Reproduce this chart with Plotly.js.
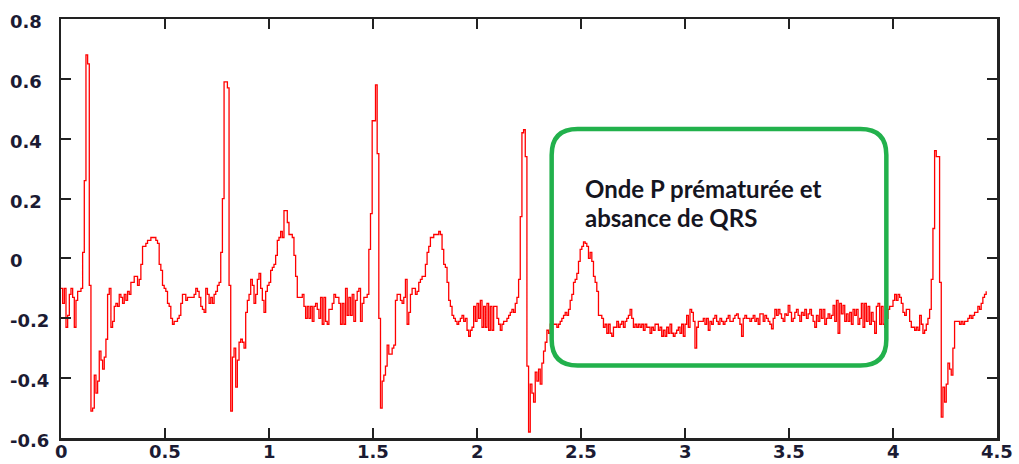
<!DOCTYPE html>
<html>
<head>
<meta charset="utf-8">
<script src="https://cdn.plot.ly/plotly-3.0.1.min.js"></script>
<style>
  html, body { margin: 0; padding: 0; background: #ffffff; }
  #chart { width: 1019px; height: 464px; }
</style>
</head>
<body>
<div id="chart"></div>
<script>
// ---- data ----
var sampleStep = 0.008; // seconds between samples
var ecgValues = [
  -0.10,-0.15,-0.10,-0.23,-0.19,-0.12,-0.10,-0.13,-0.23,-0.14,
  -0.11,-0.11,-0.10,0.02,0.26,0.68,0.65,-0.09,-0.51,-0.50,
  -0.39,-0.45,-0.41,-0.31,-0.34,-0.37,-0.33,-0.27,-0.12,-0.10,
  -0.23,-0.21,-0.16,-0.15,-0.16,-0.12,-0.13,-0.15,-0.12,-0.14,
  -0.11,-0.12,-0.08,-0.08,-0.06,-0.06,-0.09,-0.07,-0.02,0.04,
  0.04,0.05,0.06,0.06,0.07,0.07,0.07,0.06,0.05,-0.02,
  -0.04,-0.09,-0.10,-0.11,-0.15,-0.16,-0.20,-0.22,-0.21,-0.21,
  -0.20,-0.19,-0.15,-0.12,-0.12,-0.14,-0.13,-0.13,-0.13,-0.13,
  -0.12,-0.10,-0.11,-0.13,-0.16,-0.17,-0.18,-0.10,-0.12,-0.15,
  -0.13,-0.15,-0.12,-0.11,-0.09,-0.08,0.02,0.20,0.59,0.59,
  0.57,-0.09,-0.51,-0.33,-0.30,-0.43,-0.34,-0.28,-0.27,-0.28,
  -0.30,-0.18,-0.14,-0.12,-0.07,-0.09,-0.15,-0.12,-0.07,-0.05,
  -0.10,-0.14,-0.18,-0.11,-0.09,-0.08,-0.04,-0.03,-0.02,0.01,
  0.06,0.07,0.09,0.07,0.16,0.16,0.12,0.08,0.08,0.07,
  0.01,-0.06,-0.13,-0.13,-0.13,-0.12,-0.16,-0.20,-0.16,-0.20,
  -0.16,-0.21,-0.16,-0.15,-0.17,-0.20,-0.13,-0.22,-0.13,-0.21,
  -0.22,-0.17,-0.17,-0.15,-0.12,-0.13,-0.13,-0.15,-0.22,-0.15,
  -0.22,-0.10,-0.19,-0.13,-0.19,-0.12,-0.21,-0.14,-0.11,-0.10,
  -0.21,-0.15,-0.13,-0.13,-0.12,0.03,0.15,0.46,0.46,0.58,
  0.35,-0.20,-0.50,-0.41,-0.39,-0.36,-0.29,-0.32,-0.32,-0.30,
  -0.29,-0.14,-0.12,-0.12,-0.14,-0.15,-0.13,-0.07,-0.22,-0.18,
  -0.12,-0.10,-0.10,-0.12,-0.11,-0.08,-0.07,-0.06,-0.06,-0.02,
  0.02,0.04,0.07,0.07,0.08,0.08,0.08,0.09,0.08,0.03,
  -0.02,-0.03,-0.08,-0.14,-0.16,-0.19,-0.20,-0.21,-0.22,-0.21,
  -0.20,-0.19,-0.21,-0.20,-0.24,-0.26,-0.24,-0.23,-0.16,-0.21,
  -0.15,-0.20,-0.14,-0.23,-0.16,-0.23,-0.15,-0.24,-0.16,-0.24,
  -0.16,-0.16,-0.20,-0.22,-0.24,-0.22,-0.21,-0.21,-0.20,-0.19,
  -0.18,-0.17,-0.18,-0.15,-0.13,-0.07,0.14,0.42,0.43,0.34,
  -0.36,-0.58,-0.42,-0.45,-0.48,-0.38,-0.41,-0.37,-0.42,-0.35,
  -0.31,-0.28,-0.24,-0.25,-0.22,-0.22,-0.22,-0.22,-0.23,-0.22,
  -0.21,-0.20,-0.19,-0.18,-0.19,-0.17,-0.14,-0.12,-0.08,-0.07,
  -0.05,-0.01,0.03,0.04,0.055,0.05,0.04,0.00,0.02,-0.01,
  -0.06,-0.08,-0.11,-0.19,-0.19,-0.20,-0.23,-0.22,-0.25,-0.22,
  -0.25,-0.26,-0.23,-0.23,-0.21,-0.23,-0.22,-0.21,-0.23,-0.21,
  -0.20,-0.19,-0.17,-0.20,-0.23,-0.22,-0.23,-0.22,-0.23,-0.22,
  -0.24,-0.22,-0.23,-0.23,-0.25,-0.23,-0.24,-0.22,-0.22,-0.24,
  -0.23,-0.26,-0.24,-0.26,-0.23,-0.25,-0.22,-0.25,-0.26,-0.25,
  -0.24,-0.23,-0.25,-0.22,-0.26,-0.22,-0.19,-0.23,-0.17,-0.18,
  -0.21,-0.30,-0.23,-0.21,-0.21,-0.21,-0.20,-0.22,-0.20,-0.24,
  -0.21,-0.22,-0.20,-0.19,-0.21,-0.22,-0.20,-0.21,-0.22,-0.21,
  -0.20,-0.19,-0.21,-0.21,-0.20,-0.19,-0.185,-0.20,-0.22,-0.26,
  -0.20,-0.19,-0.20,-0.20,-0.21,-0.20,-0.19,-0.21,-0.20,-0.22,
  -0.185,-0.185,-0.21,-0.19,-0.20,-0.21,-0.22,-0.235,-0.20,-0.17,
  -0.19,-0.17,-0.185,-0.20,-0.21,-0.185,-0.19,-0.157,-0.18,-0.21,
  -0.20,-0.18,-0.17,-0.19,-0.21,-0.18,-0.19,-0.17,-0.20,-0.185,
  -0.17,-0.19,-0.21,-0.23,-0.19,-0.21,-0.17,-0.20,-0.17,-0.22,
  -0.20,-0.185,-0.20,-0.19,-0.157,-0.21,-0.14,-0.25,-0.15,-0.185,
  -0.157,-0.21,-0.185,-0.21,-0.18,-0.22,-0.17,-0.19,-0.17,-0.22,
  -0.20,-0.15,-0.23,-0.15,-0.21,-0.16,-0.22,-0.18,-0.21,-0.25,
  -0.16,-0.15,-0.22,-0.16,-0.22,-0.23,-0.20,-0.17,-0.16,-0.16,
  -0.14,-0.12,-0.14,-0.12,-0.13,-0.15,-0.18,-0.19,-0.17,-0.17,
  -0.21,-0.23,-0.23,-0.24,-0.23,-0.24,-0.19,-0.22,-0.25,-0.24,
  -0.22,-0.20,-0.17,-0.07,0.10,0.36,0.34,0.34,-0.08,-0.53,
  -0.43,-0.48,-0.42,-0.35,-0.37,-0.39,-0.30,-0.21,-0.21,-0.21,
  -0.22,-0.21,-0.22,-0.21,-0.21,-0.20,-0.19,-0.20,-0.19,-0.18,
  -0.18,-0.16,-0.17,-0.15,-0.13,-0.12,-0.11
];
var xTickValues = [0, 0.5, 1, 1.5, 2, 2.5, 3, 3.5, 4, 4.5];
var xTickLabels = ["0", "0.5", "1", "1.5", "2", "2.5", "3", "3.5", "4", "4.5"];
var yTickValues = [-0.6, -0.4, -0.2, 0, 0.2, 0.4, 0.6, 0.8];
var yTickLabels = ["-0.6", "-0.4", "-0.2", "0", "0.2", "0.4", "0.6", "0.8"];
var noteLines = ["Onde P prématurée et", "absance de QRS"];

// ---- build ----
var times = ecgValues.map(function (v, i) { return +(i * sampleStep).toFixed(4); });

var tickFont = { family: "DejaVu Sans, Verdana, sans-serif", size: 18, color: "#1b1b33", weight: "bold" };

// rounded rectangle (box around the premature P wave)
var bx0 = 2.359, bx1 = 3.968, by0 = -0.3577, by1 = 0.4327, rx = 0.125, ry = 0.087;
var boxPath = "M " + (bx0 + rx) + "," + by1 +
  " L " + (bx1 - rx) + "," + by1 +
  " Q " + bx1 + "," + by1 + " " + bx1 + "," + (by1 - ry) +
  " L " + bx1 + "," + (by0 + ry) +
  " Q " + bx1 + "," + by0 + " " + (bx1 - rx) + "," + by0 +
  " L " + (bx0 + rx) + "," + by0 +
  " Q " + bx0 + "," + by0 + " " + bx0 + "," + (by0 + ry) +
  " L " + bx0 + "," + (by1 - ry) +
  " Q " + bx0 + "," + by1 + " " + (bx0 + rx) + "," + by1 + " Z";

// y tick labels: left-aligned, as in the reference
var annotations = yTickValues.map(function (v, k) {
  return {
    xref: "paper", yref: "y", x: -0.0555, y: v, xanchor: "left", yanchor: "middle",
    yshift: -2.5, text: yTickLabels[k], showarrow: false, font: tickFont, borderpad: 0
  };
});
// x tick labels placed just under the axis
xTickValues.forEach(function (v, k) {
  annotations.push({
    xref: "x", yref: "paper", x: v, y: 0, xanchor: "center", yanchor: "top",
    yshift: -2, text: xTickLabels[k], showarrow: false, font: tickFont, borderpad: 0
  });
});
var noteFont = { family: "Lato, Carlito, sans-serif", size: 24, color: "#15151f", weight: "bold" };
annotations.push({ xref: "x", yref: "y", x: 2.515, y: 0.232, xanchor: "left", yanchor: "middle",
  text: noteLines[0], showarrow: false, font: noteFont, borderpad: 0 });
annotations.push({ xref: "x", yref: "y", x: 2.515, y: 0.137, xanchor: "left", yanchor: "middle",
  text: noteLines[1], showarrow: false, font: noteFont, borderpad: 0 });

var trace = {
  type: "scatter", mode: "lines", x: times, y: ecgValues,
  line: { color: "#ff0000", width: 1.3, shape: "hv" },
  hoverinfo: "skip", showlegend: false
};

var axisCommon = {
  ticks: "inside", ticklen: 10, tickwidth: 2, tickcolor: "#222222",
  showline: true, linewidth: 2.5, linecolor: "#222222", mirror: "ticks",
  showgrid: false, zeroline: false, fixedrange: true
};

var layout = {
  width: 1019, height: 464,
  margin: { l: 61, r: 22, t: 19, b: 26, pad: 0 },
  paper_bgcolor: "#ffffff", plot_bgcolor: "#ffffff",
  showlegend: false,
  xaxis: Object.assign({}, axisCommon, {
    range: [0, 4.5], tickmode: "array", tickvals: xTickValues, showticklabels: false
  }),
  yaxis: Object.assign({}, axisCommon, {
    range: [-0.6, 0.8], tickmode: "array", tickvals: yTickValues, showticklabels: false
  }),
  shapes: [{
    type: "path", xref: "x", yref: "y", path: boxPath, layer: "above",
    line: { color: "#22b14c", width: 4.5 }, fillcolor: "rgba(0,0,0,0)"
  }],
  annotations: annotations
};

Plotly.newPlot("chart", [trace], layout, { displayModeBar: false, staticPlot: true });
</script>
</body>
</html>
